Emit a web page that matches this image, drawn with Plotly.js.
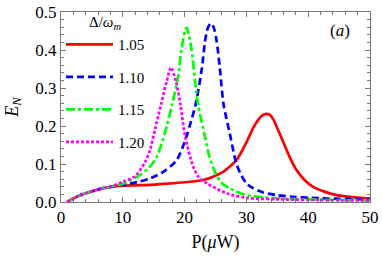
<!DOCTYPE html>
<html>
<head>
<meta charset="utf-8">
<script src="https://cdn.plot.ly/plotly-3.0.1.min.js"></script>
<style>html,body{margin:0;padding:0;background:#fff;}#chart{width:382px;height:261px;}</style>
</head>
<body>
<div id="chart"></div>
<script>
var seriesNames = ["1.05", "1.10", "1.15", "1.20"];
var legendTitle = "Δ/<i>ω</i><sub><i>m</i></sub>";

var x105 = [1,1.5,2,3,4,5,6,7,8,10,12,14.4,17,20,23,24.5,26.3,27.3,28.4,30,31.1,32,32.6,33.2,33.8,34.4,34.9,35.7,36.5,37.3,38.1,39.4,40.8,42.5,44.6,47,50];
var y105 = [0,0.005,0.009,0.017,0.023,0.028,0.033,0.037,0.040,0.043,0.044,0.045,0.048,0.052,0.058,0.066,0.08,0.093,0.11,0.157,0.195,0.218,0.228,0.232,0.229,0.216,0.198,0.168,0.137,0.108,0.084,0.058,0.04,0.028,0.018,0.013,0.009];

var x110 = [1,1.5,2,3,4,5,6,7,8,10,12.5,14.4,16.6,18.7,20.3,21.0,21.8,22.8,23.3,23.8,24.27,24.7,25.2,25.7,26.3,27.3,28.4,29.2,30,31,32.7,35,38.1,42,46,50];
var y110 = [0,0.005,0.009,0.017,0.023,0.028,0.033,0.037,0.040,0.045,0.053,0.062,0.08,0.11,0.172,0.21,0.258,0.352,0.422,0.46,0.470,0.46,0.422,0.352,0.258,0.181,0.10,0.07,0.049,0.037,0.025,0.018,0.013,0.01,0.008,0.006];

var x115 = [1,1.5,2,3,4,5,6,7,8,10,12.5,14.4,15.5,16.8,18.0,19.0,19.5,20.3,21.1,21.7,22.2,23.3,24.0,24.9,26,27.3,30,33,37,42,50];
var y115 = [0,0.005,0.009,0.017,0.023,0.028,0.033,0.037,0.040,0.048,0.068,0.093,0.119,0.181,0.258,0.334,0.404,0.459,0.404,0.317,0.255,0.172,0.12,0.08,0.05,0.036,0.018,0.012,0.008,0.006,0.004];

var x120 = [1,1.5,2,3,4,5,6,7,8,10,12,13.6,14.4,15.2,16.2,17.1,17.8,18.6,19.3,20.1,21.4,22.3,23.6,26.8,30,35,42,50];
var y120 = [0,0.005,0.009,0.017,0.023,0.028,0.033,0.037,0.040,0.053,0.068,0.105,0.137,0.19,0.258,0.317,0.354,0.317,0.258,0.172,0.093,0.065,0.049,0.023,0.011,0.007,0.005,0.004];

var xTicks = [0,10,20,30,40,50];
var yTicks = [0,0.1,0.2,0.3,0.4,0.5];

var serif = "'Liberation Serif', 'Times New Roman', serif";

function tr(x, y, name, color, dash, group) {
  return {
    x: x, y: y, name: name, type: "scatter", mode: "lines",
    legendgroup: group,
    line: {color: color, width: 2.7, dash: dash, shape: "spline", smoothing: 0.8}
  };
}

var data = [
  tr(x105, y105, seriesNames[0], "#ff0000", "solid", "a"),
  tr(x110, y110, seriesNames[1], "#0000ff", "7px,4px", "b"),
  tr(x115, y115, seriesNames[2], "#00ff00", "9px,3px,3px,3px", "c"),
  tr(x120, y120, seriesNames[3], "#ff00ff", "3px,2px", "d")
];

var axisCommon = {
  showgrid: false, zeroline: false, showline: true, mirror: "allticks",
  linecolor: "#777", linewidth: 1,
  ticks: "inside", ticklen: 5, tickcolor: "#777", tickwidth: 1,
  tickfont: {family: serif, size: 17, color: "#000"}
};

var layout = {
  width: 382, height: 261,
  margin: {l: 61, r: 12, t: 12, b: 59},
  paper_bgcolor: "#fff", plot_bgcolor: "#fff",
  font: {family: serif, color: "#000"},
  showlegend: true,
  legend: {
    x: 0.0, y: 0.915, xanchor: "left", yanchor: "top",
    bgcolor: "rgba(0,0,0,0)",
    font: {family: serif, size: 15, color: "#000"},
    traceorder: "grouped", tracegroupgap: 10,
    itemwidth: 47
  },
  xaxis: Object.assign({}, axisCommon, {
    range: [0, 50], tickvals: xTicks, ticktext: xTicks.map(String),
    minor: {dtick: 2, ticklen: 3, tickcolor: "#777", ticks: "inside"},
    title: {text: "P(<i>μ</i>W)", font: {family: serif, size: 18, color: "#000"}, standoff: 8}
  }),
  yaxis: Object.assign({}, axisCommon, {
    range: [0, 0.5], tickvals: yTicks, ticktext: yTicks.map(function(v){return v.toFixed(1);}),
    minor: {dtick: 0.02, ticklen: 3, tickcolor: "#777", ticks: "inside"},
    title: {text: "<i>E</i><sub><i>N</i></sub>", font: {family: serif, size: 18, color: "#000"}, standoff: 12}
  }),
  annotations: [{
    xref: "paper", yref: "paper", x: 0.903, y: 0.905, xanchor: "center", yanchor: "middle",
    text: "(<i>a</i>)", showarrow: false, font: {family: serif, size: 17, color: "#000"}
  }, {
    xref: "paper", yref: "paper", x: 0.142, y: 0.942, xanchor: "center", yanchor: "middle",
    text: legendTitle, showarrow: false, font: {family: serif, size: 15, color: "#000"}
  }]
};

Plotly.newPlot("chart", data, layout, {displayModeBar: false, staticPlot: true});
</script>
</body>
</html>
